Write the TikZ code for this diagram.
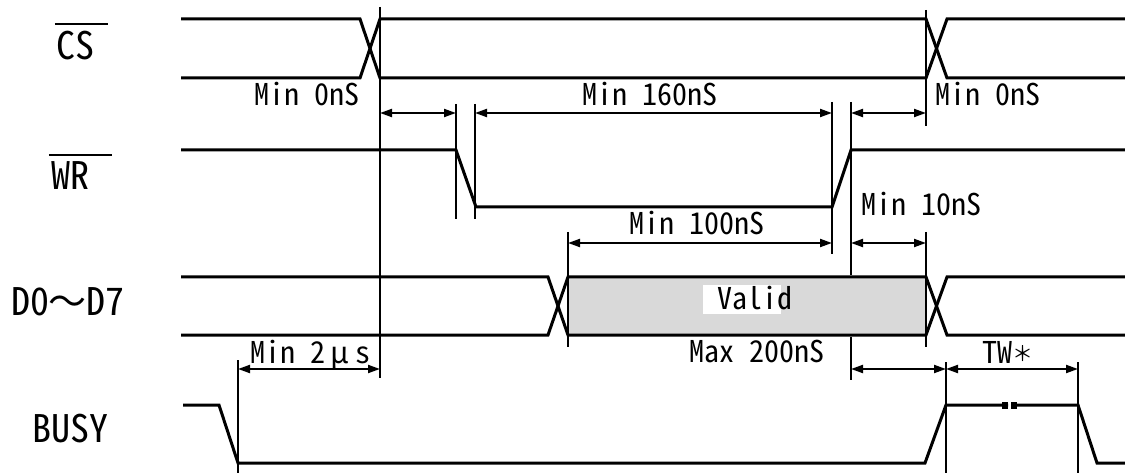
\documentclass[tikz,border=0pt]{standalone}
\usepackage{fontspec}
\newfontfamily\gothic[RawFeature=+hwid]{Noto Sans CJK JP}
\newfontfamily\gothicfull{Noto Sans CJK JP}
\usetikzlibrary{arrows.meta}

\begin{document}
\begin{tikzpicture}[x=1pt,y=-1pt,>={Triangle[length=12pt,width=8pt]},
    signal/.style={line width=3pt},
    guide/.style={line width=2pt},
    dim/.style={line width=2pt,<->},
    overbar/.style={line width=2.5pt},
    sig label/.style={font=\gothic\fontsize{38}{38}\selectfont,inner sep=0pt,text height=28pt,text depth=0pt},
    time label/.style={font=\gothic\fontsize{30}{30}\selectfont,inner sep=0pt,text height=22pt,text depth=0pt}]
    \useasboundingbox (0,0) rectangle (1125,473);

    % signal names
    \node[sig label] (lCS) at (75,46) {CS};
    \node[sig label] (lWR) at (70,176) {WR};
    \node[sig label] (lD) at (68,302) {D0{\gothicfull ～}D7};
    \node[sig label] (lBUSY) at (70,428) {BUSY};
    \draw[overbar] ([xshift=-1pt,yshift=8pt]lCS.north west) -- ++(53,0);
    \draw[overbar] ([xshift=-2pt,yshift=7pt]lWR.north west) -- ++(63,0);

    % valid window
    \fill[black!15] (568,277) rectangle (926,335);
    \fill[white] (703,285) rectangle (781,314);

    % waveforms
    \draw[signal] (181,19) -- (360,19) -- (380,78) -- (926,78) -- (947,19) -- (1125,19);
    \draw[signal] (181,78) -- (360,78) -- (380,19) -- (926,19) -- (947,78) -- (1125,78);
    \draw[signal] (181,150) -- (456,150) -- (476,207) -- (832,207) -- (851,150) -- (1125,150);
    \draw[signal] (181,277) -- (548,277) -- (568,335) -- (926,335) -- (947,277) -- (1125,277);
    \draw[signal] (181,335) -- (548,335) -- (568,277) -- (926,277) -- (947,335) -- (1125,335);
    \draw[signal] (183,405) -- (219,405) -- (238,463) -- (925,463) -- (946,405) -- (1008,405);
    \draw[signal] (1011,405) -- (1078,405) -- (1097,463) -- (1125,463);
    \fill (1002,402) rectangle (1008,409);
    \fill (1011,402) rectangle (1017,409);

    % time markers
    \coordinate (tCSa) at (380,0);
    \coordinate (tWRa) at (456,0);
    \coordinate (tWRb) at (475,0);
    \coordinate (tDa) at (568,0);
    \coordinate (tWRc) at (832,0);
    \coordinate (tWRd) at (851,0);
    \coordinate (tCSb) at (926,0);
    \coordinate (tBa) at (238,0);
    \coordinate (tBb) at (946,0);
    \coordinate (tBc) at (1078,0);
    \coordinate (rowA) at (0,113);
    \coordinate (rowB) at (0,243);
    \coordinate (rowC) at (0,369);

    \draw[guide] (tCSa) ++(0,7) -- ++(0,371);
    \draw[guide] (tWRa) ++(0,104) -- ++(0,115);
    \draw[guide] (tWRb) ++(0,104) -- ++(0,115);
    \draw[guide] (tWRc) ++(0,102) -- ++(0,152);
    \draw[guide] (tWRd) ++(0,102) -- ++(0,173);
    \draw[guide] (tWRd) ++(0,337) -- ++(0,43);
    \draw[guide] (tCSb) ++(0,10) -- ++(0,116);
    \draw[guide] (tCSb) ++(0,232) -- ++(0,115);
    \draw[guide] (tDa) ++(0,232) -- ++(0,115);
    \draw[guide] (tBa) ++(0,360) -- ++(0,113);
    \draw[guide] (tBb) ++(0,362) -- ++(0,111);
    \draw[guide] (tBc) ++(0,362) -- ++(0,111);

    \draw[dim] (tCSa |- rowA) -- (tWRa |- rowA);
    \draw[dim] (tWRb |- rowA) -- (tWRc |- rowA);
    \draw[dim] (tWRd |- rowA) -- (tCSb |- rowA);
    \draw[dim] (tDa |- rowB) -- (tWRc |- rowB);
    \draw[dim] (tWRd |- rowB) -- (tCSb |- rowB);
    \draw[dim] (tBa |- rowC) -- (tCSa |- rowC);
    \draw[dim] (tWRd |- rowC) -- (tBb |- rowC);
    \draw[dim] (tBb |- rowC) -- (tBc |- rowC);

    % timing values
    \node[time label] (csSetup) at (307,95) {Min 0nS};
    \node[time label] (wrLow) at (650,95) {Min 160nS};
    \node[time label] (csHold) at (988,95) {Min 0nS};
    \node[time label] (dHold) at (921,205) {Min 10nS};
    \node[time label] (dSetup) at (697,224) {Min 100nS};
    \node[time label] (valid) at (755,298) {Valid};
    \node[time label] (busyDelay) at (757,351) {Max 200nS};
    \node[time label] (busyGap) at (310,352) {Min 2\makebox[1em]{μ}s};
    \node[time label] (busyWidth) at (1006,352) {TW\kern3pt\makebox[0.5em]{\raisebox{2pt}{\scalebox{0.7}{\gothicfull ＊}}}};
\end{tikzpicture}
\end{document}
